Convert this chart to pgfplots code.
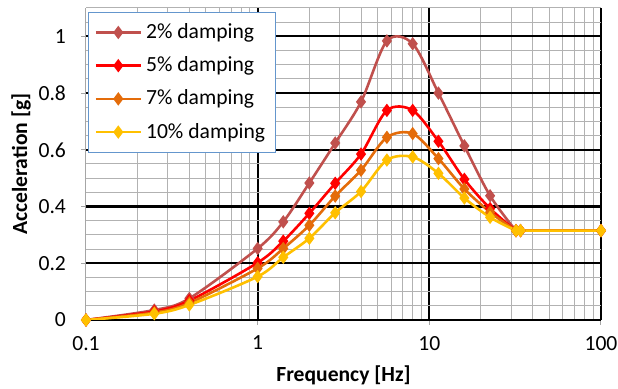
\documentclass[border=0pt]{standalone}
\usepackage{pgfplots}
\pgfplotsset{compat=1.18}
\usepackage{fontspec}
\setmainfont{Carlito}
\definecolor{cA}{RGB}{192,80,77}
\definecolor{cB}{RGB}{255,0,0}
\definecolor{cC}{RGB}{228,108,10}
\definecolor{cD}{RGB}{255,192,0}
\definecolor{lgb}{RGB}{100,150,205}
\begin{document}
\begin{tikzpicture}
\useasboundingbox (-43pt,-34.5pt) rectangle (266pt,160pt);
\begin{axis}[
  scale only axis, width=257.5pt, height=156pt,
  xmode=log, xmin=0.1, xmax=100, ymin=0, ymax=1.1,
  xtick={1,10,100}, xticklabels={1,10,100},
  extra x ticks={0.1}, extra x tick labels={0.1},
  extra x tick style={grid=none},
  minor xtick={0.2,0.3,0.4,0.5,0.6,0.7,0.8,0.9,2,3,4,5,6,7,8,9,20,30,40,50,60,70,80,90},
  ytick={0,0.2,0.4,0.6,0.8,1}, yticklabels={0,0.2,0.4,0.6,0.8,1},
  minor ytick={0.05,0.1,0.15,0.25,0.3,0.35,0.45,0.5,0.55,0.65,0.7,0.75,0.85,0.9,0.95,1.05,1.1},
  grid=both,
  major grid style={black, line width=1.1pt},
  minor grid style={gray!60, line width=0.5pt},
  axis x line*=bottom, axis y line*=left,
  x axis line style={black, line width=1.1pt, -},
  y axis line style={gray!70, line width=0.5pt, -},
  tick align=outside,
  major tick length=2.5pt, minor tick length=0pt,
  tick style={gray!70, line width=0.5pt},
  /pgf/number format/assume math mode=true,
  tick label style={font=\fontsize{10.8}{12}\selectfont, black},
  xticklabel style={yshift=-2pt},
  yticklabel style={xshift=-4pt},
  xlabel={Frequency [Hz]}, ylabel={Acceleration [g]},
  xlabel style={yshift=4pt},
  ylabel style={yshift=-3pt},
  label style={font=\fontsize{10.8}{12}\selectfont\bfseries},
  legend cell align=left,
  legend style={at={(rel axis cs:0,1)}, anchor=north west, xshift=1pt, yshift=-2pt,
    draw=lgb, line width=0.5pt, fill=white, font=\fontsize{10.8}{12}\selectfont,
    inner xsep=3pt, inner ysep=3.5pt, row sep=3.6pt},
  legend image code/.code={\draw[mark repeat=2,mark phase=2,#1] plot coordinates {(0pt,0pt) (11.25pt,0pt) (22.5pt,0pt)};},
  every axis plot/.append style={line width=1.3pt, smooth, tension=0.5, mark=diamond*, mark size=2.3pt},
]
\addplot[cA, mark options={fill=cA}] coordinates {
(0.1,0) (0.25,0.035) (0.4,0.076) (1,0.252) (1.41,0.346) (2,0.483) (2.83,0.624) (4,0.769) (5.66,0.984) (8,0.974) (11.3,0.80) (16,0.614) (22.6,0.438) (32,0.315) (34,0.315) (100,0.315)};
\addlegendentry{2\% damping}
\addplot[cB, mark options={fill=cB}] coordinates {
(0.1,0) (0.25,0.030) (0.4,0.068) (1,0.202) (1.41,0.278) (2,0.376) (2.83,0.482) (4,0.585) (5.66,0.739) (8,0.739) (11.3,0.630) (16,0.496) (22.6,0.393) (32,0.315) (34,0.315) (100,0.315)};
\addlegendentry{5\% damping}
\addplot[cC, mark options={fill=cC}] coordinates {
(0.1,0) (0.25,0.026) (0.4,0.060) (1,0.182) (1.41,0.252) (2,0.334) (2.83,0.437) (4,0.528) (5.66,0.644) (8,0.657) (11.3,0.569) (16,0.462) (22.6,0.380) (32,0.315) (34,0.315) (100,0.315)};
\addlegendentry{7\% damping}
\addplot[cD, mark options={fill=cD}] coordinates {
(0.1,0) (0.25,0.022) (0.4,0.053) (1,0.153) (1.41,0.221) (2,0.288) (2.83,0.378) (4,0.453) (5.66,0.564) (8,0.575) (11.3,0.517) (16,0.430) (22.6,0.362) (32,0.315) (34,0.315) (100,0.315)};
\addlegendentry{10\% damping}
\end{axis}
\end{tikzpicture}
\end{document}
